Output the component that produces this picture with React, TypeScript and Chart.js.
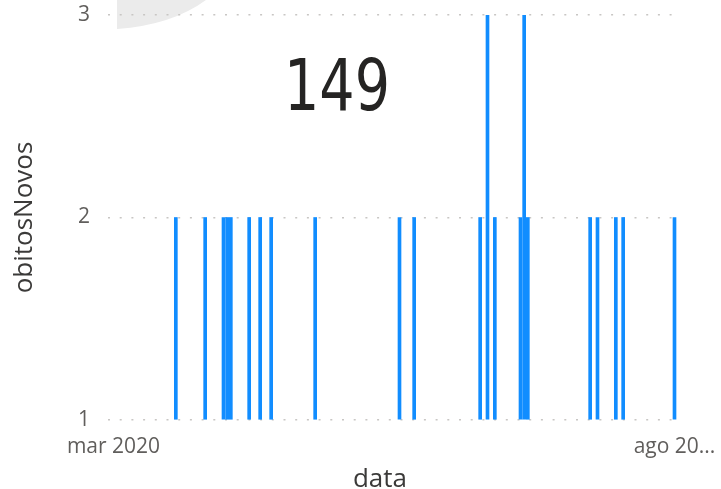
import React, { useEffect, useRef } from "react";
import { Chart, registerables } from "chart.js";

Chart.register(...registerables);

// days after 1 Mar 2020
const dayOffsets = [17, 25, 30, 31, 32, 37, 40, 43, 55, 78, 82, 100, 102, 104, 111, 112, 113, 130, 132, 137, 139, 153];
const obitosNovos = [2, 2, 2, 2, 2, 2, 2, 2, 2, 2, 2, 2, 3, 2, 2, 3, 2, 2, 2, 2, 2, 2];
const xTickDays = [0, 153];
const xTickLabels = ["mar 2020", "ago 20..."];
const yTicks = [1, 2, 3];
const cardValue = "149";
const xTitle = "data";
const yTitle = "obitosNovos";

const overlayPlugin = {
  id: "overlay",
  beforeDraw(chart: any) {
    const ctx = chart.ctx;
    ctx.save();
    ctx.fillStyle = "#ebebeb";
    ctx.beginPath();
    ctx.moveTo(117, 0);
    ctx.lineTo(117, 29);
    ctx.quadraticCurveTo(172, 25, 206, 0);
    ctx.closePath();
    ctx.fill();
    ctx.restore();
  },
  afterDraw(chart: any) {
    const ctx = chart.ctx;
    ctx.save();
    ctx.fillStyle = "#252423";
    ctx.font = "72px 'DejaVu Sans Condensed', 'DejaVu Sans', sans-serif";
    ctx.textAlign = "left";
    ctx.textBaseline = "alphabetic";
    const w = ctx.measureText(cardValue).width;
    const target = 106;
    const sx = target / w;
    ctx.translate(284, 110);
    ctx.scale(sx, 1);
    ctx.fillText(cardValue, 0, 0);
    ctx.restore();

    ctx.save();
    ctx.fillStyle = "#3b3a39";
    ctx.font = "26px 'Open Sans', sans-serif";
    ctx.textAlign = "center";
    ctx.textBaseline = "alphabetic";
    ctx.fillText(xTitle, 380, 487);
    ctx.restore();
  },
};

export default function App() {
  const ref = useRef<HTMLCanvasElement | null>(null);
  useEffect(() => {
    if (!ref.current) return;
    const tickFont = { family: "'Open Sans', sans-serif", size: 21 };
    const titleFont = { family: "'Open Sans', sans-serif", size: 26 };
    const chart = new Chart(ref.current, {
      type: "bar",
      data: {
        datasets: [
          {
            data: dayOffsets.map((d, i) => ({ x: d, y: obitosNovos[i] })),
            backgroundColor: "#118DFF",
            barThickness: 3,
            base: 1,
          } as any,
        ],
      },
      options: {
        animation: false,
        responsive: true,
        maintainAspectRatio: false,
        layout: { padding: { top: 15, right: 41, left: 0, bottom: 0 } },
        plugins: { legend: { display: false }, tooltip: { enabled: false } },
        scales: {
          x: {
            type: "linear",
            min: -1.5,
            max: 154.5,
            offset: false,
            grid: { display: false, drawTicks: false },
            border: { display: false },
            afterBuildTicks: (s: any) => {
              s.ticks = xTickDays.map((v) => ({ value: v }));
            },
            ticks: {
              autoSkip: false,
              maxRotation: 0,
              padding: 14,
              font: tickFont,
              color: "#605e5c",
              callback: (v: any) => {
                const i = xTickDays.indexOf(Number(v));
                return i >= 0 ? xTickLabels[i] : "";
              },
            },
            title: { display: false },
            afterFit: (s: any) => {
              s.height = 69;
              s.paddingLeft = 0;
              s.paddingRight = 0;
            },
          } as any,
          y: {
            min: 1,
            max: 3,
            afterBuildTicks: (s: any) => {
              s.ticks = yTicks.map((v) => ({ value: v }));
            },
            grid: { color: "#c8c6c4", lineWidth: 1.5, drawTicks: false },
            border: { display: false, dash: [2, 9.7] },
            ticks: { padding: 18, font: tickFont, color: "#605e5c" },
            title: {
              display: true,
              text: yTitle,
              font: titleFont,
              color: "#3b3a39",
              padding: { top: 9, bottom: 0 },
            },
            afterFit: (s: any) => {
              s.width = 108;
              s.paddingTop = 0;
              s.paddingBottom = 0;
            },
          } as any,
        },
      },
      plugins: [overlayPlugin],
    });
    return () => chart.destroy();
  }, []);
  return (
    <div style={{ position: "fixed", left: 0, top: 0, width: 721, height: 489, background: "#fff" }}>
      <canvas ref={ref} />
    </div>
  );
}
